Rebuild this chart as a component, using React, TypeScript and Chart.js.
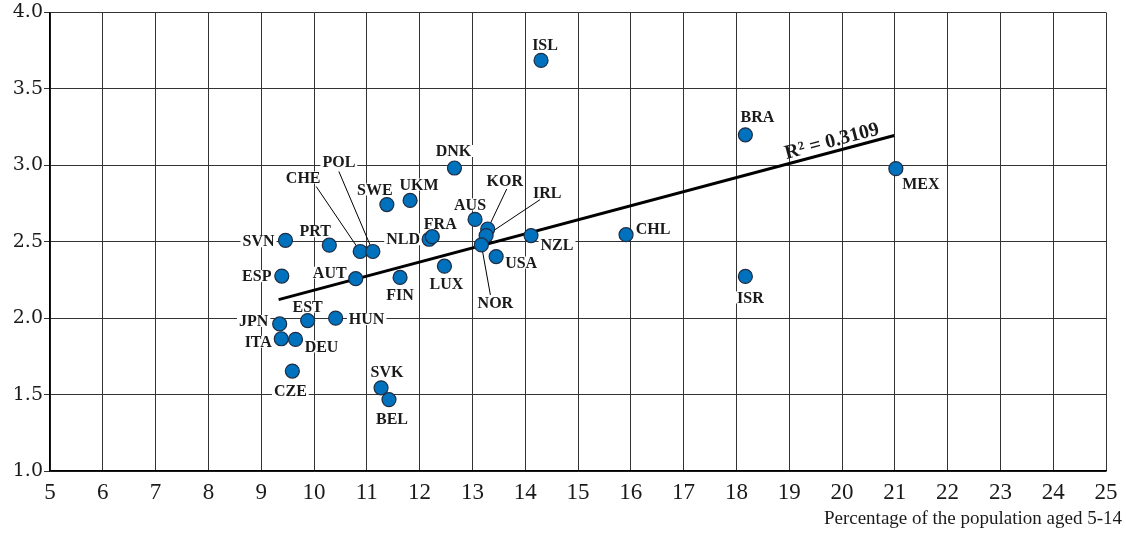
import React, { useEffect, useRef } from "react";
import { Chart, registerables } from "chart.js";

Chart.register(...registerables);

// ---- data ----
const countries = ["ISL", "BRA", "MEX", "DNK", "CHL", "ISR", "SVN", "PRT", "CHE", "POL", "SWE", "UKM", "NLD", "FRA", "AUS", "KOR", "IRL", "NOR", "NZL", "USA", "LUX", "FIN", "AUT", "ESP", "JPN", "EST", "HUN", "ITA", "DEU", "CZE", "SVK", "BEL"];
const xValues = [14.30, 18.17, 21.02, 12.66, 15.91, 18.17, 9.46, 10.29, 10.875, 11.115, 11.38, 11.82, 12.18, 12.24, 13.05, 13.29, 13.26, 13.17, 14.11, 13.45, 12.47, 11.63, 10.79, 9.39, 9.35, 9.88, 10.41, 9.38, 9.65, 9.59, 11.27, 11.42];
const yValues = [3.686, 3.199, 2.978, 2.982, 2.546, 2.273, 2.509, 2.477, 2.436, 2.436, 2.743, 2.770, 2.516, 2.533, 2.646, 2.583, 2.540, 2.479, 2.540, 2.403, 2.340, 2.266, 2.258, 2.275, 1.962, 1.984, 2.0, 1.865, 1.861, 1.654, 1.544, 1.467];
const trendX = [9.33, 20.99];
const trendY = [2.121, 3.195];
const r2Label = "R\u00B2 = 0.3109";
const xTickValues = [5, 6, 7, 8, 9, 10, 11, 12, 13, 14, 15, 16, 17, 18, 19, 20, 21, 22, 23, 24, 25];
const yTickValues = [1.0, 1.5, 2.0, 2.5, 3.0, 3.5, 4.0];
const xAxisTitle = "Percentage of the population aged 5-14";

// ---- label placement (pixel offsets from the point) ----
const labelOffsets: Record<string, [number, number]> = {
  ISL: [4, -16], BRA: [12, -18], MEX: [25, 15], DNK: [-1, -17], CHL: [27, -6], ISR: [5, 21],
  SVN: [-27, 1], PRT: [-14, -14], CHE: [-57, -74], POL: [-34, -90], SWE: [-12, -15], UKM: [9, -16],
  NLD: [-26, 0], FRA: [8, -13], AUS: [-5, -15], KOR: [17, -48], IRL: [61, -43], NOR: [14, 58],
  NZL: [26, 9], USA: [25, 6], LUX: [2, 18], FIN: [0, 17], AUT: [-26, -6], ESP: [-25, 0],
  JPN: [-26, -3], EST: [0, -14], HUN: [31, 1], ITA: [-23, 3], DEU: [26, 7], CZE: [-2, 20],
  SVK: [6, -16], BEL: [3, 19],
};
const leaderStarts: Record<string, [number, number]> = {
  CHE: [-44, -65], POL: [-34, -80], KOR: [19, -40], IRL: [54, -36], NOR: [9, 50],
};

const LABEL_FONT = "bold 16px 'Liberation Serif', serif";

const labelPlugin = {
  id: "countryLabels",
  beforeDatasetsDraw(chart: any) {
    const ctx = chart.ctx;
    const xs = chart.scales.x;
    const ys = chart.scales.y;
    ctx.save();
    ctx.font = LABEL_FONT;
    countries.forEach((c, i) => {
      const off = labelOffsets[c];
      if (!off) return;
      const px = xs.getPixelForValue(xValues[i]);
      const py = ys.getPixelForValue(yValues[i]);
      const w = ctx.measureText(c).width;
      ctx.fillStyle = "#ffffff";
      ctx.fillRect(px + off[0] - w / 2 - 2, py + off[1] - 6, w + 4, 12);
    });
    ctx.strokeStyle = "#000";
    ctx.lineWidth = 1;
    countries.forEach((c, i) => {
      const lead = leaderStarts[c];
      if (!lead) return;
      const px = xs.getPixelForValue(xValues[i]);
      const py = ys.getPixelForValue(yValues[i]);
      ctx.beginPath();
      ctx.moveTo(px + lead[0], py + lead[1]);
      ctx.lineTo(px, py);
      ctx.stroke();
    });
    ctx.restore();
  },
  afterDatasetsDraw(chart: any) {
    const ctx = chart.ctx;
    const xs = chart.scales.x;
    const ys = chart.scales.y;
    ctx.save();
    ctx.font = LABEL_FONT;
    ctx.fillStyle = "#1a1a1a";
    ctx.textAlign = "center";
    ctx.textBaseline = "middle";
    countries.forEach((c, i) => {
      const off = labelOffsets[c];
      if (!off) return;
      const px = xs.getPixelForValue(xValues[i]);
      const py = ys.getPixelForValue(yValues[i]);
      ctx.fillText(c, px + off[0], py + off[1] + 1);
    });
    const x1 = xs.getPixelForValue(trendX[0]);
    const y1 = ys.getPixelForValue(trendY[0]);
    const x2 = xs.getPixelForValue(trendX[1]);
    const y2 = ys.getPixelForValue(trendY[1]);
    const ang = Math.atan2(y2 - y1, x2 - x1);
    const t = 0.9;
    const cx = x1 + (x2 - x1) * t;
    const cy = y1 + (y2 - y1) * t;
    ctx.translate(cx, cy);
    ctx.rotate(ang);
    ctx.font = "bold 20px 'Liberation Serif', serif";
    ctx.textBaseline = "alphabetic";
    ctx.fillText(r2Label, 2, -5);
    ctx.restore();
    ctx.save();
    ctx.font = "19px 'Liberation Serif', serif";
    ctx.fillStyle = "#1a1a1a";
    ctx.textAlign = "right";
    ctx.textBaseline = "alphabetic";
    ctx.fillText(xAxisTitle, chart.width - 4, 524);
    ctx.restore();
  },
};

export default function App() {
  const ref = useRef<HTMLCanvasElement>(null);
  useEffect(() => {
    document.body.style.margin = "0";
    const canvas = ref.current;
    if (!canvas) return;
    const chart = new Chart(canvas, {
      type: "scatter",
      data: {
        datasets: [
          {
            type: "scatter",
            data: xValues.map((x, i) => ({ x, y: yValues[i] })),
            backgroundColor: "#0071BC",
            borderColor: "#1d2d44",
            borderWidth: 1.2,
            pointRadius: 7,
            pointHoverRadius: 7,
          },
          {
            type: "line",
            data: trendX.map((x, i) => ({ x, y: trendY[i] })),
            borderColor: "#000",
            borderWidth: 3,
            pointRadius: 0,
            fill: false,
          } as any,
        ],
      },
      options: {
        animation: false,
        responsive: false,
        maintainAspectRatio: false,
        layout: { padding: { top: 10, right: 20, left: 0, bottom: 0 } },
        plugins: { legend: { display: false }, tooltip: { enabled: false } },
        scales: {
          x: {
            type: "linear",
            min: 5,
            max: 25,
            afterBuildTicks: (s: any) => { s.ticks = xTickValues.map((v) => ({ value: v })); },
            afterFit: (s: any) => { s.height = 64; },
            grid: { color: "#333", lineWidth: 1, drawTicks: false },
            border: { color: "#000", width: 1.5 },
            ticks: {
              padding: 8,
              color: "#1a1a1a",
              font: { family: "'Liberation Serif', serif", size: 23 },
              maxRotation: 0,
              autoSkip: false,
            },
          },
          y: {
            type: "linear",
            min: 1,
            max: 4,
            afterBuildTicks: (s: any) => { s.ticks = yTickValues.map((v) => ({ value: v })); },
            afterFit: (s: any) => { s.width = 50; },
            grid: { color: "#333", lineWidth: 1, drawTicks: true, tickLength: 6 },
            border: { color: "#000", width: 1.5 },
            ticks: {
              padding: 1,
              color: "#1a1a1a",
              font: { family: "'DejaVu Serif', serif", size: 19 },
              callback: (v: any) => Number(v).toFixed(1),
            },
          },
        },
      },
      plugins: [labelPlugin],
    });
    return () => chart.destroy();
  }, []);
  return (
    <div style={{ width: 1126, height: 535, background: "#fff" }}>
      <canvas ref={ref} width={1126} height={535} style={{ display: "block" }} />
    </div>
  );
}
